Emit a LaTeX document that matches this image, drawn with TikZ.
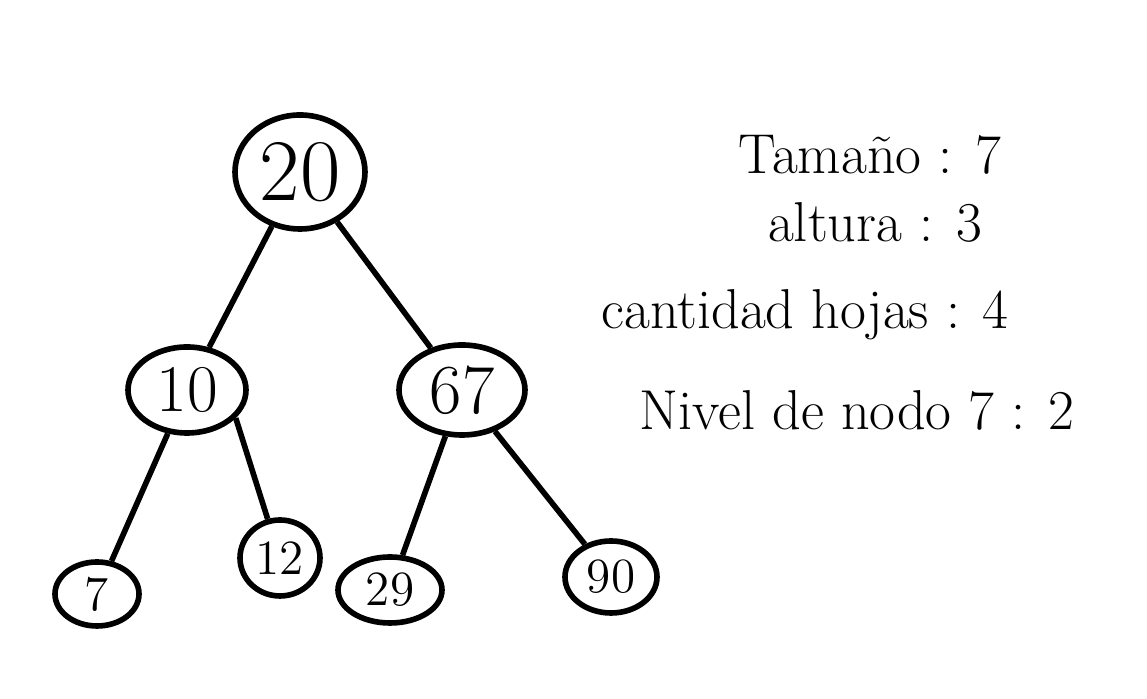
\documentclass[tikz,border=0pt]{standalone}
\usepackage{tikz}
\usetikzlibrary{shapes.geometric}
\tikzstyle{nodo} = [draw,ellipse,line width=1.6pt,inner sep=0pt]
\tikzstyle{hoja} = [nodo,font=\fontsize{14}{17}\selectfont]
\tikzstyle{arista} = [line width=1.6pt]
\tikzstyle{dato} = [font=\fontsize{16}{20}\selectfont]

\begin{document}
\begin{tikzpicture}[x=0.1mm,y=-0.1mm]
	\useasboundingbox (0,0) rectangle (1147,699);
	\node[nodo,minimum width=13mm,minimum height=11.4mm,font=\fontsize{25}{29}\selectfont] (n20) at (300,172) {20};
	\node[nodo,minimum width=11.8mm,minimum height=8.6mm,font=\fontsize{19}{23}\selectfont] (n10) at (187,390) {10};
	\node[nodo,minimum width=12.6mm,minimum height=9mm,font=\fontsize{20}{24}\selectfont] (n67) at (462,390) {67};
	\node[hoja,minimum width=8.4mm,minimum height=6.4mm] (n7) at (97,594) {7};
	\node[hoja,minimum width=8mm,minimum height=7.6mm] (n12) at (280,558) {12};
	\node[hoja,minimum width=10.4mm,minimum height=6.6mm] (n29) at (390,590) {29};
	\node[hoja,minimum width=9.2mm,minimum height=7.2mm] (n90) at (611,577) {90};
	\draw[arista] (n20) -- (n10);
	\draw[arista] (n20) -- (n67);
	\draw[arista] (n10) -- (n7);
	\draw[arista] (n10.-30) -- (n12);
	\draw[arista] (n67) -- (n29);
	\draw[arista] (n67) -- (n90);
	\node[dato] (tam) at (870,155) {Tamaño : 7};
	\node[dato] (alt) at (875,222) {altura : 3};
	\node[dato] (hoj) at (805,315) {cantidad hojas : 4};
	\node[dato] (niv) at (857,410) {Nivel de nodo 7 : 2};
\end{tikzpicture}
\end{document}
